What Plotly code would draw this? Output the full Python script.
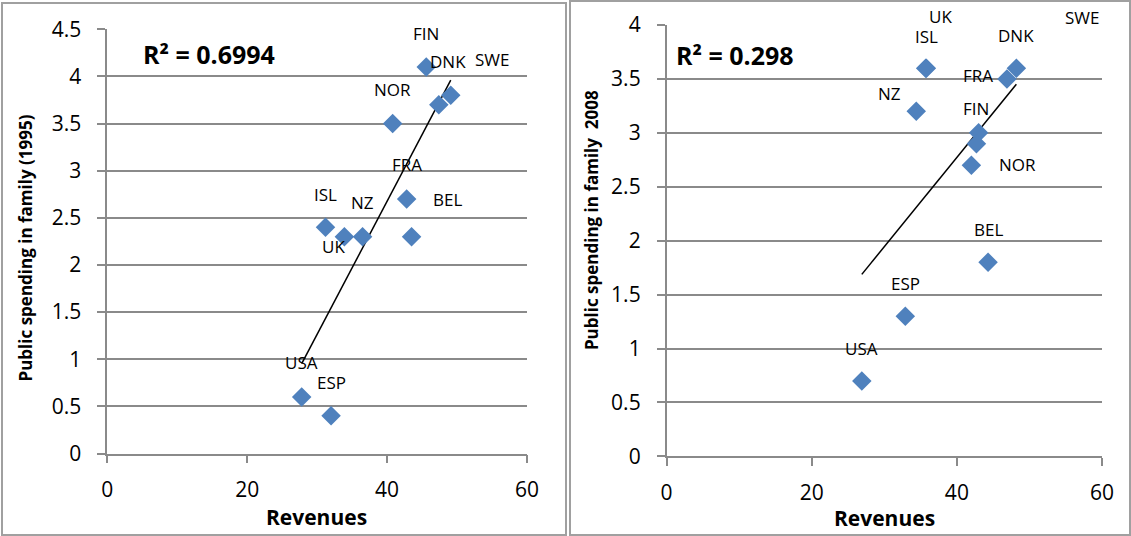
import numpy as np
import plotly.graph_objects as go

# ---------------- data ----------------
countries_1995 = ["FIN", "DNK", "SWE", "NOR", "FRA", "BEL", "ISL", "UK", "NZ", "USA", "ESP"]
revenues_1995 = [45.6, 47.4, 49.1, 40.8, 42.8, 43.5, 31.2, 33.9, 36.5, 27.8, 32.0]
family_1995 = [4.1, 3.7, 3.8, 3.5, 2.7, 2.3, 2.4, 2.3, 2.3, 0.6, 0.4]
r2_text_1995 = "R² = 0.6994"

countries_2008 = ["UK", "ISL", "DNK", "SWE", "NZ", "FRA", "FIN", "NOR", "BEL", "ESP", "USA"]
revenues_2008 = [35.8, 35.7, 48.2, 46.9, 34.4, 43.0, 42.7, 42.0, 44.3, 32.9, 26.9]
family_2008 = [3.6, 3.6, 3.6, 3.5, 3.2, 3.0, 2.9, 2.7, 1.8, 1.3, 0.7]
r2_text_2008 = "R² = 0.298"

x_title = "Revenues"
y_title_1995 = "Public spending in family (1995)"
y_title_2008 = "Public spending in family  2008"

# label offsets in screen pixels (dx right, dy down)
label_offsets_1995 = {"FIN": (0, -34), "DNK": (9, -43), "SWE": (41, -36), "NOR": (0, -34),
                      "FRA": (0, -34), "BEL": (36, -37), "ISL": (0, -33), "UK": (-11, 10),
                      "NZ": (0, -34), "USA": (0, -34), "ESP": (0, -33)}
label_offsets_2008 = {"UK": (14, -52), "ISL": (1, -32), "DNK": (0, -33), "SWE": (75, -61),
                      "NZ": (-27, -18), "FRA": (-1, -57), "FIN": (0, -35), "NOR": (46, -1),
                      "BEL": (0, -33), "ESP": (0, -33), "USA": (0, -32)}

# ---------------- layout helpers ----------------
W, H = 1131, 536
def px(x):
    return x / W
def py(y):
    return (H - y) / H

FONT = "Open Sans"
BLUE = "#4F81BD"
GRID = "#8a8a8a"

fig = go.Figure()

def add_panel(xs, ys, names, offsets, xa, ya):
    xs = np.array(xs, dtype=float)
    ys = np.array(ys, dtype=float)
    slope, intercept = np.polyfit(xs, ys, 1)
    xl = np.array([xs.min(), xs.max()])
    fig.add_trace(go.Scatter(x=xl, y=slope * xl + intercept, mode="lines",
                             line=dict(color="black", width=1.5),
                             xaxis=xa, yaxis=ya, showlegend=False, hoverinfo="skip"))
    fig.add_trace(go.Scatter(x=xs, y=ys, mode="markers",
                             marker=dict(symbol="diamond", size=15, color=BLUE),
                             xaxis=xa, yaxis=ya, showlegend=False, text=names))
    xref = "x" if xa == "x" else "x2"
    yref = "y" if ya == "y" else "y2"
    for n, xv, yv in zip(names, xs, ys):
        dx, dy = offsets[n]
        fig.add_annotation(x=xv, y=yv, xref=xref, yref=yref, text=n, showarrow=False,
                           xshift=dx, yshift=-dy,
                           font=dict(family=FONT, size=17, color="black"))

add_panel(revenues_1995, family_1995, countries_1995, label_offsets_1995, "x", "y")
add_panel(revenues_2008, family_2008, countries_2008, label_offsets_2008, "x2", "y2")

axis_common = dict(showline=True, linecolor=GRID, linewidth=1.5, ticks="outside",
                   ticklen=8, tickwidth=1.5, tickcolor=GRID, automargin=False,
                   tickfont=dict(family=FONT, size=21, color="black"),
                   zeroline=False)

fig.update_layout(
    width=W, height=H, autosize=False,
    margin=dict(l=0, r=0, t=0, b=0),
    paper_bgcolor="white", plot_bgcolor="white",
    xaxis=dict(domain=[px(107.2), px(527)], range=[0, 60], tickvals=[0, 20, 40, 60],
               showgrid=False, anchor="y", ticklabelstandoff=9, **axis_common),
    yaxis=dict(domain=[py(453.5), py(29.3)], range=[0, 4.5],
               tickvals=[0, 0.5, 1, 1.5, 2, 2.5, 3, 3.5, 4, 4.5],
               ticktext=["0", "0.5", "1", "1.5", "2", "2.5", "3", "3.5", "4", "4.5"],
               showgrid=True, gridcolor=GRID, gridwidth=1.5, anchor="x",
               ticklabelstandoff=12, **axis_common),
    xaxis2=dict(domain=[px(666.6), px(1102)], range=[0, 60], tickvals=[0, 20, 40, 60],
                showgrid=False, anchor="y2", ticklabelstandoff=9, **axis_common),
    yaxis2=dict(domain=[py(456.4), py(25)], range=[0, 4],
                tickvals=[0, 0.5, 1, 1.5, 2, 2.5, 3, 3.5, 4],
                ticktext=["0", "0.5", "1", "1.5", "2", "2.5", "3", "3.5", "4"],
                showgrid=True, gridcolor=GRID, gridwidth=1.5, anchor="x2",
                ticklabelstandoff=12, **axis_common),
)

# panel borders
fig.add_shape(type="rect", xref="paper", yref="paper", x0=px(2), x1=px(566), y0=py(535), y1=py(3),
              line=dict(color="#a0a0a0", width=2), fillcolor="rgba(0,0,0,0)", layer="below")
fig.add_shape(type="rect", xref="paper", yref="paper", x0=px(570), x1=px(1130), y0=py(535), y1=py(1),
              line=dict(color="#a0a0a0", width=2), fillcolor="rgba(0,0,0,0)", layer="below")

def paper_text(text, x, y, size, angle=0):
    fig.add_annotation(x=px(x), y=py(y), xref="paper", yref="paper", text="<b>" + text + "</b>",
                       showarrow=False, textangle=angle, xanchor="center", yanchor="middle",
                       font=dict(family=FONT, size=size, color="black"))

paper_text(x_title, 316, 517, 21)
paper_text(x_title, 884, 518, 21)
paper_text(y_title_1995, 25, 248.5, 17, -90)
paper_text(y_title_2008, 591.5, 220.6, 17, -90)
paper_text(r2_text_1995, 209.2, 54, 25)
paper_text(r2_text_2008, 734.6, 54.7, 25)

fig.write_html("out.html", config={"displayModeBar": False},
               post_script="document.body.style.margin='0px';document.body.style.overflow='hidden';")
